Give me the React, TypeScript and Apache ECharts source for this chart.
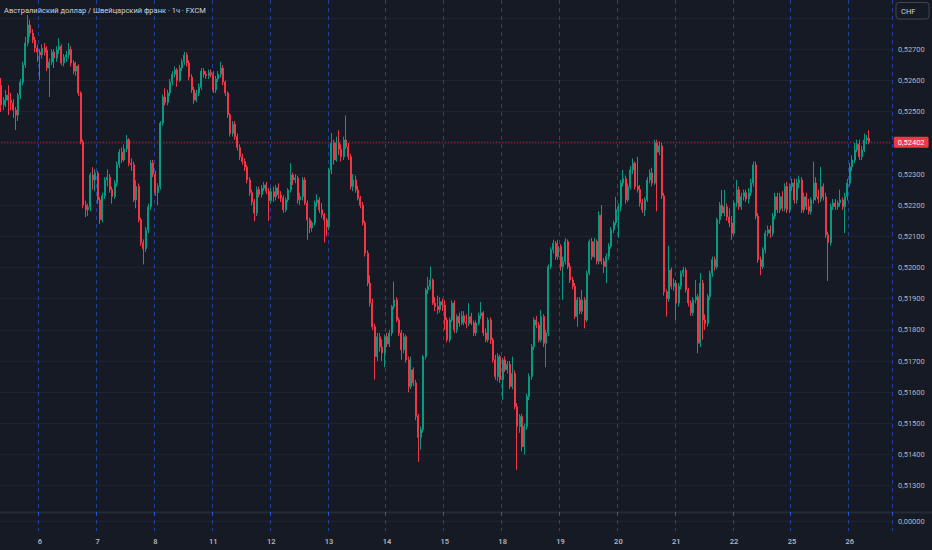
import React, { useEffect, useRef } from "react";
import * as echarts from "echarts";

// Day labels on the time axis (first entry: the tail of day 5, before the first visible label)
const dayLabels = [5, 6, 7, 8, 11, 12, 13, 14, 15, 18, 19, 20, 21, 22, 25, 26];

// Hourly candles per day, [open, close, low, high] in 1e-5 units
const day05 = [
  [52585,52521,52499,52608],[52521,52537,52505,52547],[52537,52553,52515,52570],[52553,52537,52489,52585],
  [52537,52528,52505,52560],[52528,52505,52480,52540],[52505,52489,52441,52515],[52489,52553,52470,52560],
  [52553,52595,52540,52605],[52595,52650,52585,52660],[52650,52720,52640,52740],[52720,52778,52710,52810],
  [52778,52752,52740,52795],[52752,52730,52720,52765],[52730,52704,52690,52740],[52704,52691,52660,52715],
];
const day06 = [
  [52691,52682,52602,52700],[52682,52704,52670,52716],[52704,52691,52680,52720],[52697,52640,52630,52710],
  [52640,52659,52547,52670],[52659,52691,52650,52700],[52691,52672,52640,52700],[52672,52698,52660,52710],
  [52698,52710,52685,52736],[52710,52656,52648,52716],[52656,52675,52645,52685],[52675,52682,52660,52695],
  [52682,52700,52670,52720],[52700,52656,52645,52710],[52656,52630,52620,52665],[52630,52646,52615,52660],
  [52646,52560,52550,52652],[52560,52403,52395,52565],[52403,52200,52190,52410],[52200,52185,52162,52215],
  [52185,52194,52165,52205],[52194,52297,52180,52305],[52297,52281,52250,52322],[52281,52303,52245,52315],
];
const day07 = [
  [52303,52217,52205,52310],[52217,52153,52140,52225],[52153,52230,52145,52240],[52230,52281,52220,52290],
  [52281,52290,52260,52315],[52290,52250,52240,52300],[52250,52228,52205,52260],[52228,52270,52220,52280],
  [52270,52330,52260,52340],[52330,52370,52320,52380],[52370,52345,52335,52385],[52345,52380,52340,52395],
  [52380,52410,52370,52425],[52410,52335,52325,52415],[52335,52330,52310,52350],[52330,52217,52210,52340],
  [52217,52260,52190,52280],[52260,52153,52145,52270],[52153,52080,52070,52160],[52080,52060,52010,52090],
  [52060,52121,52050,52130],[52121,52195,52110,52205],[52195,52335,52185,52345],[52335,52300,52290,52345],
];
const day08 = [
  [52300,52240,52230,52310],[52240,52260,52200,52270],[52260,52463,52250,52470],[52463,52547,52455,52555],
  [52547,52530,52520,52575],[52530,52560,52520,52570],[52560,52595,52550,52605],[52595,52620,52585,52630],
  [52620,52634,52610,52645],[52634,52600,52580,52640],[52600,52640,52595,52650],[52640,52660,52630,52670],
  [52660,52682,52650,52692],[52682,52656,52645,52690],[52656,52611,52600,52665],[52611,52570,52560,52620],
  [52570,52537,52525,52580],[52537,52560,52530,52570],[52560,52578,52550,52590],[52578,52630,52570,52640],
  [52630,52620,52610,52640],[52620,52615,52605,52630],[52615,52625,52605,52635],[52625,52620,52610,52635],
];
const day11 = [
  [52620,52570,52560,52630],[52570,52605,52560,52615],[52605,52620,52595,52630],[52620,52640,52610,52660],
  [52640,52595,52585,52650],[52595,52560,52550,52600],[52560,52490,52480,52565],[52490,52430,52420,52495],
  [52430,52460,52420,52470],[52460,52420,52410,52470],[52420,52385,52375,52430],[52385,52355,52345,52395],
  [52355,52340,52330,52365],[52340,52322,52310,52350],[52322,52281,52270,52330],[52281,52240,52230,52290],
  [52240,52210,52200,52250],[52210,52175,52148,52220],[52175,52250,52165,52260],[52250,52235,52225,52260],
  [52235,52255,52225,52265],[52255,52265,52245,52275],[52265,52245,52235,52275],[52245,52215,52150,52255],
];
const day12 = [
  [52215,52243,52205,52255],[52243,52227,52210,52260],[52227,52256,52215,52265],[52256,52233,52220,52270],
  [52233,52223,52210,52245],[52223,52185,52175,52232],[52185,52217,52178,52225],[52217,52249,52210,52255],
  [52249,52297,52240,52335],[52297,52281,52265,52305],[52281,52287,52270,52300],[52287,52217,52205,52295],
  [52217,52227,52200,52240],[52227,52281,52215,52290],[52281,52207,52200,52290],[52207,52153,52089,52215],
  [52153,52127,52110,52160],[52127,52143,52115,52150],[52143,52207,52135,52215],[52207,52217,52195,52235],
  [52217,52185,52175,52225],[52185,52170,52160,52207],[52170,52153,52080,52175],[52153,52130,52100,52160],
];
const day13 = [
  [52130,52313,52120,52320],[52313,52400,52300,52432],[52400,52345,52330,52410],[52345,52400,52340,52420],
  [52400,52380,52360,52440],[52380,52355,52340,52395],[52355,52409,52345,52420],[52409,52387,52380,52488],
  [52387,52355,52345,52400],[52355,52260,52250,52365],[52260,52281,52245,52300],[52281,52249,52240,52295],
  [52249,52222,52215,52262],[52222,52200,52190,52230],[52200,52143,52135,52210],[52143,52046,52035,52150],
  [52046,51950,51940,52055],[51950,51886,51875,51975],[51886,51810,51800,51900],[51810,51714,51640,51820],
  [51714,51778,51700,51790],[51778,51745,51730,51790],[51745,51726,51700,51770],[51726,51778,51680,51785],
];
const day14 = [
  [51778,51755,51745,51790],[51755,51790,51745,51800],[51790,51875,51780,51880],[51875,51896,51865,51955],
  [51896,51832,51825,51905],[51832,51790,51780,51840],[51790,51736,51704,51800],[51736,51778,51725,51790],
  [51778,51704,51695,51785],[51704,51618,51600,51715],[51618,51672,51610,51714],[51672,51630,51620,51680],
  [51630,51522,51510,51640],[51522,51455,51376,51530],[51455,51480,51416,51490],[51480,51714,51470,51720],
  [51714,51928,51705,51935],[51928,51940,51915,51970],[51940,51960,51930,52003],[51960,51886,51880,51965],
  [51886,51875,51860,51905],[51875,51865,51850,51910],[51865,51890,51855,51905],[51890,51880,51860,51900],
];
const day15 = [
  [51880,51832,51800,51895],[51832,51768,51760,51840],[51768,51832,51760,51840],[51832,51886,51825,51895],
  [51886,51800,51790,51895],[51800,51843,51790,51850],[51843,51822,51810,51855],[51822,51845,51815,51860],
  [51845,51825,51815,51860],[51825,51820,51805,51850],[51820,51843,51812,51886],[51843,51822,51815,51855],
  [51822,51790,51780,51830],[51790,51822,51780,51830],[51822,51845,51815,51855],[51845,51855,51835,51890],
  [51855,51790,51780,51860],[51790,51768,51760,51805],[51768,51832,51760,51840],[51832,51768,51755,51840],
  [51768,51704,51695,51775],[51704,51650,51640,51720],[51650,51714,51635,51725],[51714,51640,51630,51720],
];
const day18 = [
  [51640,51704,51576,51710],[51704,51672,51665,51715],[51672,51690,51660,51700],[51690,51618,51610,51700],
  [51618,51660,51610,51714],[51660,51554,51545,51670],[51554,51490,51351,51565],[51490,51522,51470,51530],
  [51522,51425,51410,51530],[51425,51490,51400,51500],[51490,51586,51480,51595],[51586,51650,51575,51660],
  [51650,51746,51640,51755],[51746,51832,51735,51840],[51832,51815,51805,51845],[51815,51768,51760,51825],
  [51768,51843,51760,51864],[51843,51757,51745,51850],[51757,51790,51680,51800],[51790,52003,51780,52010],
  [52003,52057,51995,52065],[52057,52078,52045,52089],[52078,52035,52025,52085],[52035,52068,52025,52089],
];
const day19 = [
  [52068,52003,51990,52075],[52003,52020,51896,52035],[52020,52083,52010,52095],[52083,52003,51995,52090],
  [52003,51960,51950,52015],[51960,51940,51930,51970],[51940,51843,51835,51950],[51843,51896,51810,51905],
  [51896,51860,51850,51905],[51860,51896,51850,51928],[51896,51832,51805,51905],[51832,51982,51825,51990],
  [51982,52083,51975,52090],[52083,52035,52025,52095],[52035,52083,52030,52095],[52083,52020,52010,52090],
  [52020,52168,52010,52180],[52168,52020,52010,52200],[52020,52003,51982,52030],[52003,52035,51950,52045],
  [52035,52068,52025,52078],[52068,52121,52060,52130],[52121,52143,52110,52150],[52143,52185,52135,52227],
];
const day20 = [
  [52185,52195,52095,52205],[52195,52271,52180,52281],[52271,52285,52260,52313],[52285,52217,52205,52295],
  [52217,52260,52210,52270],[52260,52313,52250,52325],[52313,52335,52300,52350],[52335,52260,52250,52340],
  [52260,52250,52240,52355],[52250,52207,52195,52265],[52207,52185,52175,52220],[52185,52217,52165,52225],
  [52217,52281,52210,52290],[52281,52303,52270,52315],[52303,52271,52260,52320],[52271,52400,52265,52410],
  [52400,52370,52180,52410],[52370,52390,52360,52405],[52390,52230,52220,52400],[52230,51922,51910,52240],
  [51922,51900,51843,51930],[51900,51992,51890,52070],[51992,51940,51930,52000],[51940,51950,51925,51965],
];
const day21 = [
  [51950,51886,51832,51960],[51886,51940,51875,51950],[51940,51982,51930,51990],[51982,51992,51970,52003],
  [51992,51928,51920,52000],[51928,51886,51875,51935],[51886,51855,51845,51895],[51855,51896,51845,51905],
  [51896,51906,51885,51960],[51906,51757,51725,51915],[51757,51950,51745,51982],[51950,51832,51768,51960],
  [51832,51820,51800,51850],[51820,51906,51810,51915],[51906,51982,51895,51990],[51982,52025,51970,52035],
  [52025,52003,51990,52035],[52003,52153,51995,52160],[52153,52200,52140,52210],[52200,52175,52165,52249],
  [52175,52195,52165,52249],[52195,52162,52150,52205],[52162,52143,52130,52190],[52143,52110,52089,52165],
];
const day22 = [
  [52110,52207,52100,52215],[52207,52249,52195,52281],[52249,52195,52185,52260],[52195,52227,52185,52240],
  [52227,52240,52215,52250],[52240,52220,52210,52250],[52220,52240,52205,52255],[52240,52271,52230,52285],
  [52271,52329,52260,52340],[52329,52165,52155,52340],[52165,52025,52015,52175],[52025,52003,51975,52035],
  [52003,52057,51995,52065],[52057,52110,52045,52120],[52110,52121,52100,52135],[52121,52110,52095,52135],
  [52110,52165,52100,52175],[52165,52227,52155,52240],[52227,52185,52175,52240],[52185,52227,52175,52240],
  [52227,52190,52180,52245],[52190,52260,52180,52270],[52260,52185,52175,52275],[52185,52260,52175,52270],
];
const day25 = [
  [52260,52271,52245,52285],[52271,52217,52205,52285],[52217,52271,52205,52285],[52271,52281,52255,52295],
  [52281,52185,52175,52290],[52185,52227,52175,52240],[52227,52195,52185,52240],[52195,52180,52170,52220],
  [52180,52217,52170,52225],[52217,52271,52205,52340],[52271,52227,52215,52290],[52227,52220,52205,52250],
  [52220,52260,52210,52323],[52260,52227,52215,52270],[52227,52105,52095,52240],[52105,52080,51957,52115],
  [52080,52195,52070,52205],[52195,52207,52185,52220],[52207,52195,52185,52220],[52195,52207,52185,52215],
  [52207,52217,52195,52250],[52217,52195,52185,52225],[52195,52227,52110,52240],[52227,52271,52215,52285],
];
const day26 = [
  [52271,52323,52260,52335],[52323,52345,52310,52360],[52345,52377,52335,52400],[52377,52395,52370,52410],
  [52395,52355,52345,52410],[52355,52377,52345,52390],[52377,52409,52370,52430],[52409,52415,52395,52425],
  [52415,52402,52395,52441],
];

const dayCandles = [day05, day06, day07, day08, day11, day12, day13, day14, day15, day18, day19, day20, day21, day22, day25, day26];
const emptyHoursAfter = 9;
const lastPrice = 0.52402;
const priceMin = 0.512;
const priceMax = 0.528582;
const priceStep = 0.001;
const titleText = "Австралийский доллар / Швейцарский франк · 1ч · FXCM";
const currencyText = "CHF";

const BG = "#161a25";
const GRID = "#1f2330";
const DASH = "rgba(41,98,255,0.55)";
const UP = "#089981";
const DOWN = "#f23645";
const LABEL = "#b2b5be";
const FONT = "Roboto, 'Noto Sans', sans-serif";

const fmt = (v: number) => v.toFixed(5).replace(".", ",");

export default function App() {
  const ref = useRef<HTMLDivElement>(null);
  useEffect(() => {
    const chart = echarts.init(ref.current as HTMLDivElement, null, { renderer: "svg" });
    const categories: string[] = [];
    dayCandles.forEach((candles, d) => {
      const isLast = d === dayCandles.length - 1;
      const n = candles.length + (isLast ? emptyHoursAfter : 0);
      const start = d === 0 ? 24 - candles.length : 0;
      for (let k = 0; k < n; k++) categories.push(`${dayLabels[d]}|${start + k}`);
    });
    const data = dayCandles.flat().map((c) => c.map((v) => v / 100000));
    const isDayStart = (_i: number, value: string) => String(value).endsWith("|0");
    const tickCount = Math.round((0.528 - priceMin) / priceStep) + 1;
    const splitColors = Array.from({ length: tickCount + 1 }, (_, k) =>
      k === 0 || k === tickCount ? "rgba(0,0,0,0)" : GRID
    );
    const lastLine = [
      [categories[0], lastPrice],
      [categories[categories.length - 1], lastPrice],
    ];

    chart.setOption({
      animation: false,
      backgroundColor: BG,
      textStyle: { fontFamily: FONT },
      grid: [
        { left: 0, right: 40, top: 0, height: 516.9 },
        { left: 0, right: 40, top: 512, height: 19 },
      ],
      xAxis: [
        {
          type: "category",
          gridIndex: 0,
          data: categories,
          boundaryGap: true,
          axisLine: { show: false },
          axisTick: { show: false },
          axisLabel: { show: false },
          splitLine: { show: true, interval: isDayStart, lineStyle: { color: DASH, type: [4, 4], width: 1 } },
        },
        {
          type: "category",
          gridIndex: 1,
          data: categories,
          boundaryGap: true,
          axisLine: { show: false },
          axisTick: { show: false },
          axisLabel: {
            show: true,
            interval: isDayStart,
            formatter: (v: string) => v.split("|")[0],
            color: LABEL,
            fontSize: 7.5,
            fontWeight: 600,
            margin: 6,
          },
          splitLine: { show: true, interval: isDayStart, lineStyle: { color: DASH, type: [4, 4], width: 1 } },
        },
      ],
      yAxis: [
        {
          type: "value",
          gridIndex: 0,
          position: "right",
          min: priceMin,
          max: priceMax,
          interval: priceStep,
          axisLine: { show: false },
          axisTick: { show: false },
          axisLabel: {
            color: LABEL,
            fontSize: 7.5,
            margin: 6,
            formatter: (v: number) => (v > 0.5125 && v < 0.5275 ? fmt(v) : ""),
          },
          splitLine: { show: true, lineStyle: { color: splitColors, width: 1 } },
        },
        {
          type: "value",
          gridIndex: 1,
          position: "right",
          min: -1,
          max: 1,
          interval: 1,
          axisLine: { show: false },
          axisTick: { show: false },
          axisLabel: {
            color: LABEL,
            fontSize: 7.5,
            margin: 6,
            formatter: (v: number) => (v === 0 ? fmt(0) : ""),
          },
          splitLine: { show: true, lineStyle: { color: ["rgba(0,0,0,0)", GRID, "rgba(0,0,0,0)"], width: 1 } },
        },
      ],
      series: [
        {
          type: "line",
          name: "last",
          xAxisIndex: 0,
          yAxisIndex: 0,
          data: lastLine,
          symbol: "none",
          silent: true,
          z: 1,
          lineStyle: { color: DOWN, type: [1, 2], width: 1, opacity: 0.85 },
          endLabel: {
            show: true,
            distance: 3,
            formatter: () => fmt(lastPrice),
            backgroundColor: DOWN,
            color: "#ffffff",
            fontSize: 7.5,
            padding: [2, 4, 1, 4],
            borderRadius: 1,
          },
        },
        {
          type: "candlestick",
          xAxisIndex: 0,
          yAxisIndex: 0,
          data,
          barWidth: 1.5,
          z: 3,
          itemStyle: {
            color: UP,
            color0: DOWN,
            borderColor: UP,
            borderColor0: DOWN,
            borderWidth: 1,
          },
        },
        { type: "line", xAxisIndex: 1, yAxisIndex: 1, data: [], silent: true },
      ],
      graphic: [
        { type: "rect", shape: { x: 0, y: 511.5, width: 932, height: 2 }, style: { fill: "#262a36" }, silent: true },
        {
          type: "text",
          x: 4,
          y: 10,
          style: { text: titleText, fill: "#d1d4dc", fontSize: 7.5, fontFamily: FONT, verticalAlign: "middle" },
          silent: true,
        },
        {
          type: "rect",
          shape: { x: 896, y: 2.5, width: 33, height: 16.5, r: 3 },
          style: { fill: BG, stroke: "#434651", lineWidth: 1 },
          silent: true,
        },
        {
          type: "text",
          x: 901,
          y: 11,
          style: { text: currencyText, fill: "#d1d4dc", fontSize: 7.5, fontFamily: FONT, verticalAlign: "middle" },
          silent: true,
        },
      ],
    });
    return () => chart.dispose();
  }, []);
  return (
    <div
      ref={ref}
      style={{ position: "fixed", left: 0, top: 0, width: 932, height: 550, background: BG }}
    />
  );
}
